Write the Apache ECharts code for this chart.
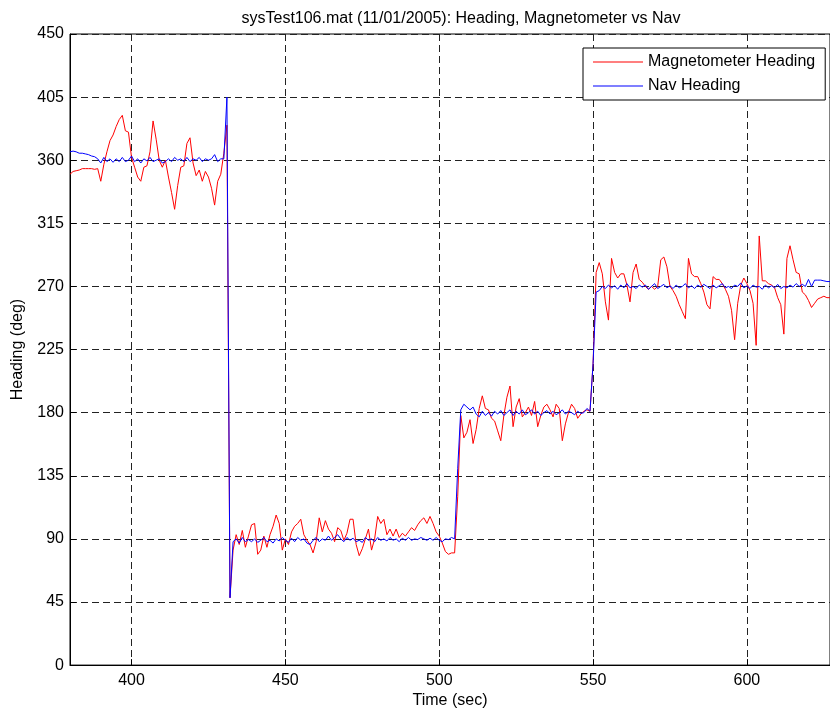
<!DOCTYPE html>
<html>

	<head>
		<meta charset="UTF-8">
		<title>sysTest106 heading</title>
		<script src="https://cdn.jsdelivr.net/npm/echarts@6.0.0/dist/echarts.min.js"></script>
		<style>
			body { margin: 0; background: #fff; }
		</style>
	</head>

	<body>
		<div id="heading" style="width: 830px; height: 714px;"></div>
		<script type="text/javascript">
			// samples, one per second starting at startTime
			var startTime = 380;
			var seriesNames = ['Magnetometer Heading', 'Nav Heading'];

			var magHeading = [
				350, 352, 352.5, 353, 354, 354, 354, 354, 353.5, 354,
				345, 357, 366, 374, 378, 384, 389, 392, 381, 380,
				362, 355, 348, 345, 355, 356, 366, 388, 375, 360,
				355, 360, 348, 337, 325, 342, 355, 356, 372, 376,
				358, 349, 353, 345, 352, 348, 340, 328, 345, 350,
				365, 385, 48, 82, 93, 86, 96, 84, 92, 100,
				101, 79, 82, 92, 84, 93, 99, 107, 101, 82,
				90, 86, 95, 99, 101, 104, 93, 89, 86, 80,
				88, 105, 95, 103, 97, 94, 88, 98, 96, 89,
				94, 104, 104, 86, 78, 83, 90, 97, 82, 90,
				106, 101, 104, 93, 97, 92, 97, 91, 94, 92,
				95, 98, 96, 100, 103, 105, 101, 106, 101, 95,
				92, 87, 81, 79, 80, 80, 120, 178, 162, 166,
				175, 158, 168, 183, 192, 183, 182, 176, 174, 167,
				160, 178, 191, 199, 170, 184, 190, 177, 180, 184,
				178, 188, 170, 178, 184, 186, 182, 177, 186, 183,
				160, 172, 180, 186, 183, 176, 179, 181, 182, 181,
				215, 280, 287, 279, 259, 246, 290, 280, 276, 279,
				279, 271, 259, 280, 286, 275, 273, 270, 268, 270,
				268, 270, 289, 291, 284, 270, 267, 263, 257, 252,
				247, 290, 279, 277, 277, 272, 266, 257, 254, 277,
				275, 275, 272, 268, 263, 253, 232, 258, 271, 276,
				272, 267, 258, 228, 306, 274, 274, 272, 271, 269,
				262, 257, 236, 290, 299, 289, 280, 279, 266, 264,
				260, 255, 258, 261, 262, 263, 262, 262
			];

			var navHeading = [
				366, 366.5, 366, 365, 365, 364.5, 364, 363, 362.5, 361,
				358, 362, 359, 361, 358.5, 361, 359, 362, 359, 360,
				363, 359, 361, 358, 361, 359.5, 362, 359, 360, 361,
				358, 359, 361, 359, 362, 360, 361, 359, 362, 359,
				361, 360, 362, 359, 361, 360, 361, 364, 359, 361,
				361, 405, 48, 88, 90, 87, 91, 88, 89.5, 88,
				90, 87.5, 89, 91, 88, 89, 87, 90, 88.5, 91,
				89, 87.5, 90.5, 88, 91, 89, 90, 87, 86, 89,
				91, 88, 90, 89, 92, 89, 91, 93, 90, 88,
				91, 89, 90.5, 88, 89, 87.5, 91, 89, 90, 88,
				91, 89, 90, 88.5, 91, 89, 90, 88, 90.5, 89,
				91, 89, 90, 89.5, 91, 90, 89, 90.5, 89, 91,
				89, 88, 90, 89.5, 91, 90, 140, 182, 186, 184,
				182, 184, 179, 177, 181, 178, 180, 177.5, 181, 179,
				181.5, 178, 180, 182, 178, 181, 179, 182, 178.5, 180,
				182, 179, 181, 178, 180, 181.5, 179, 181, 178.5, 180,
				182, 179, 181, 180, 178.5, 181, 179.5, 180, 183, 181,
				215, 266, 267, 270, 268.5, 271, 269, 270.5, 268, 271,
				269, 272, 269, 270, 268.5, 271, 269.5, 271, 268, 270,
				272, 268.5, 270, 271.5, 269, 270.5, 268.5, 271, 269, 270,
				272, 269, 270.5, 268.5, 271, 269.5, 271.5, 270, 268.5, 271,
				269, 270.5, 272, 269, 270, 268.5, 271, 270, 272.5, 269,
				270.5, 268.5, 271, 269.5, 270, 268, 271, 269, 270.5, 269,
				271.5, 268.5, 270, 269, 271, 269.5, 272, 270, 271.5, 270,
				275, 270, 274.5, 274.5, 274.5, 274, 273.5, 273.5
			];

			function toPoints(vals) {
				return vals.map(function(v, i) {
					return [startTime + i, v];
				});
			}

			var font = 'Liberation Sans, Arial, Helvetica, sans-serif';
			var gridLine = {
				show: true,
				lineStyle: { color: '#222', width: 1, type: [7, 4] }
			};

			var myChart = echarts.init(document.getElementById('heading'));
			myChart.setOption({
				animation: false,
				backgroundColor: '#fff',
				textStyle: { fontFamily: font },
				title: {
					text: 'sysTest106.mat (11/01/2005): Heading, Magnetometer vs Nav',
					left: 456,
					top: 6,
					textAlign: 'center',
					textStyle: { fontSize: 16, fontWeight: 'normal', color: '#000', fontFamily: font }
				},
				legend: {
					data: seriesNames,
					orient: 'vertical',
					left: 583,
					top: 48,
					padding: [6, 10, 6, 10],
					itemGap: 8,
					itemWidth: 50,
					itemHeight: 1,
					icon: 'rect',
					backgroundColor: '#fff',
					borderColor: '#000',
					borderWidth: 1,
					selectedMode: false,
					textStyle: { fontSize: 16, color: '#000', fontFamily: font }
				},
				grid: {
					left: 70,
					right: -2,
					top: 34,
					bottom: 46,
					show: true,
					borderColor: '#000',
					borderWidth: 1,
					backgroundColor: '#fff'
				},
				xAxis: {
					type: 'value',
					min: 380,
					max: 627,
					splitNumber: 5,
					name: 'Time (sec)',
					nameLocation: 'middle',
					nameGap: 26,
					nameTextStyle: { fontSize: 16, color: '#000', fontFamily: font },
					axisLine: { show: true, lineStyle: { color: '#000', width: 1 } },
					axisTick: { show: true, inside: true, length: 6, lineStyle: { color: '#000' } },
					axisLabel: { fontSize: 16, color: '#000', margin: 7, showMinLabel: false, showMaxLabel: false, fontFamily: font },
					splitLine: gridLine
				},
				yAxis: {
					type: 'value',
					min: 0,
					max: 450,
					interval: 45,
					name: 'Heading (deg)',
					nameLocation: 'middle',
					nameGap: 44,
					nameTextStyle: { fontSize: 16, color: '#000', fontFamily: font },
					axisLine: { show: true, lineStyle: { color: '#000', width: 1 } },
					axisTick: { show: true, inside: true, length: 6, lineStyle: { color: '#000' } },
					axisLabel: { fontSize: 16, color: '#000', margin: 6, fontFamily: font },
					splitLine: gridLine
				},
				series: [{
					name: seriesNames[0],
					type: 'line',
					data: toPoints(magHeading),
					symbol: 'none',
					color: '#ff0000',
					lineStyle: { color: '#ff0000', width: 1 }
				}, {
					name: seriesNames[1],
					type: 'line',
					data: toPoints(navHeading),
					symbol: 'none',
					color: '#0000ff',
					lineStyle: { color: '#0000ff', width: 1 }
				}]
			});
		</script>

	</body>

</html>
